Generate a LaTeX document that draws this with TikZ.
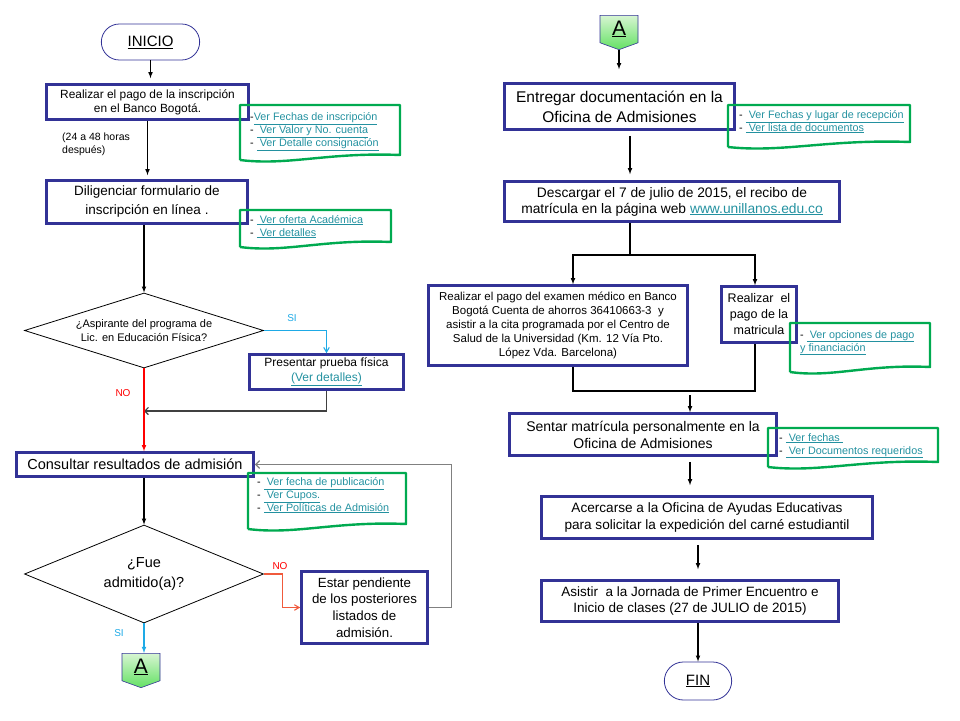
\documentclass[tikz,border=0pt]{standalone}
\usepackage{fontspec}
\setmainfont{Liberation Sans}
\usepackage{xcolor}
\usepackage{tikz}
\usetikzlibrary{shapes}
\usetikzlibrary{positioning}
\usetikzlibrary{arrows}
\definecolor{azulcaja}{RGB}{50,50,150}
\definecolor{verdenota}{RGB}{0,170,80}
\definecolor{enlace}{RGB}{35,145,160}
\definecolor{celeste}{RGB}{30,170,230}
\definecolor{naranja}{RGB}{240,90,60}
\definecolor{verdeclaro}{RGB}{215,245,210}
\definecolor{verdefuerte}{RGB}{100,225,100}
\newcommand{\tam}[2]{\fontsize{#1pt}{#2pt}\selectfont}
\newcommand{\vinculo}[1]{\textcolor{enlace}{\underline{#1}}}
% Marco verde de las notas: x1 y1 x2 y2 (borde inferior ondulado)
\newcommand{\marco}[4]{%
  \draw[verdenota, line width=2.4pt, line join=round]
    ({#1},{#4-3}) -- ({#1},{#2}) -- ({#3},{#2}) -- ({#3},{#4-8})
    .. controls ({#3-0.45*(#3-#1)},{#4-11}) and ({#1+0.3*(#3-#1)},{#4+3}) .. ({#1},{#4-3});}

\begin{document}
\begin{tikzpicture}[x=1pt, y=-1pt,
  >=latex,   % Pfeilspitzen
  caja/.style={draw=azulcaja, line width=2.6pt, align=center, inner sep=2pt},
  terminal/.style={draw=azulcaja, line width=0.8pt, rounded rectangle,
    minimum width=105pt, minimum height=36pt, font=\tam{15}{18}},
  decision/.style={draw, line width=0.8pt, diamond, align=center, inner sep=0pt},
  conA/.style={signal, signal to=south, signal from=nowhere, signal pointer angle=140,
    draw=azulcaja, line width=0.6pt, top color=verdeclaro, bottom color=verdefuerte,
    minimum width=38pt, minimum height=30pt, inner sep=0pt, font=\tam{21}{21}},
  nota/.style={align=left, inner sep=0pt, anchor=north west, font=\tam{10.8}{13}},
  flecha/.style={->, line width=1.1pt},
  abierta/.style={-angle 60, line width=1.1pt},
  etiq/.style={inner sep=0pt, font=\tam{10}{11}}]

\useasboundingbox (0,0) rectangle (960,720);

% Columna izquierda
\node[terminal] (inicio) at (150.5,42) {\underline{INICIO}};
\node[caja, minimum width=202pt, minimum height=35pt, font=\tam{11.9}{14}] (pago) at (147.5,102)
  {Realizar el pago de la inscripción\\en el Banco Bogotá.};
\node[align=left, inner sep=0pt, anchor=north west, font=\tam{10.5}{13}] (espera) at (62,133)
  {(24 a 48 horas\\después)};
\node[caja, minimum width=201pt, minimum height=43pt, font=\tam{13.5}{19}] (formulario) at (147,202)
  {Diligenciar formulario de\\inscripción en línea .};
\node[decision, aspect=3.2, minimum width=239pt, minimum height=75pt, font=\tam{11}{14}] (aspirante) at (144,330.5)
  {¿Aspirante del programa de\\Lic. en Educación Física?};
\node[caja, minimum width=154pt, minimum height=35pt, font=\tam{12}{14.5}] (prueba) at (326.5,372)
  {Presentar prueba física\\\vinculo{(Ver detalles)}};
\coordinate (union) at (144,411);
\node[caja, minimum width=237pt, minimum height=24pt, font=\tam{14.5}{17}] (resultados) at (135,464.5)
  {Consultar resultados de admisión};
\node[decision, aspect=2.44, minimum width=239pt, minimum height=98pt, font=\tam{14.5}{20}] (admitido) at (144,574)
  {¿Fue\\admitido(a)?};
\node[caja, minimum width=126pt, minimum height=72pt, font=\tam{13.3}{16.7}] (pendiente) at (364.5,607.5)
  {Estar pendiente\\de los posteriores\\listados de\\admisión.};
\node[conA, anchor=north] (A1) at (141,653) {\underline{A}};

% Columna derecha
\node[conA, anchor=north] (A2) at (619,15) {\underline{A}};
\node[caja, minimum width=230pt, minimum height=46pt, font=\tam{15.5}{20}] (entregar) at (619.5,106.5)
  {Entregar documentación en la\\Oficina de Admisiones};
\node[caja, minimum width=335pt, minimum height=40pt, font=\tam{13.8}{16}] (descargar) at (672,201.5)
  {Descargar el 7 de julio de 2015, el recibo de\\matrícula en la página web \vinculo{www.unillanos.edu.co}};
\coordinate (reparto) at (630,255);
\node[caja, minimum width=259pt, minimum height=80pt, font=\tam{11.5}{14}] (examen) at (558,325.5)
  {Realizar el pago del examen médico en Banco\\Bogotá Cuenta de ahorros 36410663-3~ y\\asistir a la cita programada por el Centro de\\Salud de la Universidad (Km. 12 Vía Pto.\\López Vda. Barcelona)};
\node[caja, minimum width=75pt, minimum height=56pt, font=\tam{12.5}{16}] (matricula) at (759,314.5)
  {Realizar~ el\\pago de la\\matricula};
\coordinate (junta) at (690,391);
\node[caja, minimum width=267pt, minimum height=42pt, font=\tam{14}{17}] (sentar) at (643,434.5)
  {Sentar matrícula personalmente en la\\Oficina de Admisiones};
\node[caja, minimum width=331pt, minimum height=42pt, font=\tam{13.6}{17.5}] (carne) at (707,517.5)
  {Acercarse a la Oficina de Ayudas Educativas\\para solicitar la expedición del carné estudiantil};
\node[caja, minimum width=297pt, minimum height=41pt, font=\tam{13.5}{16}] (jornada) at (690,601)
  {Asistir~ a la Jornada de Primer Encuentro e\\Inicio de clases (27 de JULIO de 2015)};
\node[terminal, minimum width=74pt, minimum height=38pt] (fin) at (698,681) {\underline{FIN}};

% Notas
\marco{240}{105}{400}{163}
\node[nota] (nota1) at (250,112) {-\vinculo{Ver Fechas de inscripción}\\- \vinculo{ Ver Valor y No. cuenta}\\- \vinculo{ Ver Detalle consignación}};
\marco{240}{210}{391}{250}
\node[nota] (nota2) at (250,215) {- \vinculo{ Ver oferta Académica}\\- \vinculo{ Ver detalles}};
\marco{248}{473}{406}{532}
\node[nota] (nota3) at (257,477) {- \vinculo{ Ver fecha de publicación}\\- \vinculo{ Ver Cupos.}\\- \vinculo{ Ver Políticas de Admisión}};
\marco{728}{105}{910}{150}
\node[nota] (nota4) at (739,110) {- \vinculo{ Ver Fechas y lugar de recepción}\\- \vinculo{ Ver lista de documentos}};
\marco{790}{323}{930}{375}
\node[nota] (nota5) at (800,330) {- \vinculo{ Ver opciones de pago}\\\vinculo{y financiación}};
\marco{768}{428}{938}{470}
\node[nota] (nota6) at (779,433) {- \vinculo{ Ver fechas }\\- \vinculo{ Ver Documentos requeridos}};

% Etiquetas
\node[etiq, text=celeste] (si1) at (292,318) {SI};
\node[etiq, text=red] (no1) at (123,393) {NO};
\node[etiq, text=red] (no2) at (280,566) {NO};
\node[etiq, text=celeste] (si2) at (119,633) {SI};

% Conectores izquierda
\draw[flecha, shorten >=5pt] (inicio.south) -- (inicio.south |- pago.north);
\draw[flecha, shorten >=4pt] (pago.south) -- (pago.south |- formulario.north);
\draw[flecha] (aspirante.north |- formulario.south) -- (aspirante.north);
\draw[abierta, celeste] (aspirante.east) -| (prueba.north);
\draw[-angle 90, line width=1.1pt, black!75] (prueba.south) |- (union);
\draw[flecha, red] (aspirante.south) -- (aspirante.south |- resultados.north);
\draw[flecha] (admitido.north |- resultados.south) -- (admitido.north);
\draw[abierta, naranja] (admitido.east) -- ++(19,0) |- (pendiente.west);
\draw[-angle 90, line width=1.3pt, gray] (pendiente.east) -- ++(23,0) |- (resultados.east);
\draw[flecha, celeste] (admitido.south) -- (admitido.south |- A1.north);

% Conectores derecha
\draw[flecha, shorten >=13pt] (A2.south) -- (A2.south |- entregar.north);
\draw[flecha, shorten <=5pt, shorten >=6pt] ([xshift=10.5pt]entregar.south) -- ([xshift=10.5pt]entregar.south |- descargar.north);
\draw[line width=1.1pt] ([xshift=-42pt]descargar.south) -- (reparto);
\draw[flecha] (reparto) -| ([xshift=15pt]examen.north);
\draw[flecha] (reparto) -| ([xshift=-4pt]matricula.north);
\draw[line width=1.1pt] ([xshift=15pt]examen.south) |- (junta) -| ([xshift=-4pt]matricula.south);
\draw[flecha, shorten <=4pt] (junta) -- (junta |- sentar.north);
\draw[flecha, shorten <=5pt, shorten >=10pt] ([xshift=47pt]sentar.south) -- ([xshift=47pt]sentar.south |- carne.north);
\draw[flecha, shorten <=5pt, shorten >=10pt] ([xshift=-9pt]carne.south) -- ([xshift=-9pt]carne.south |- jornada.north);
\draw[flecha] (fin.north |- jornada.south) -- (fin.north);
\end{tikzpicture}
\end{document}
